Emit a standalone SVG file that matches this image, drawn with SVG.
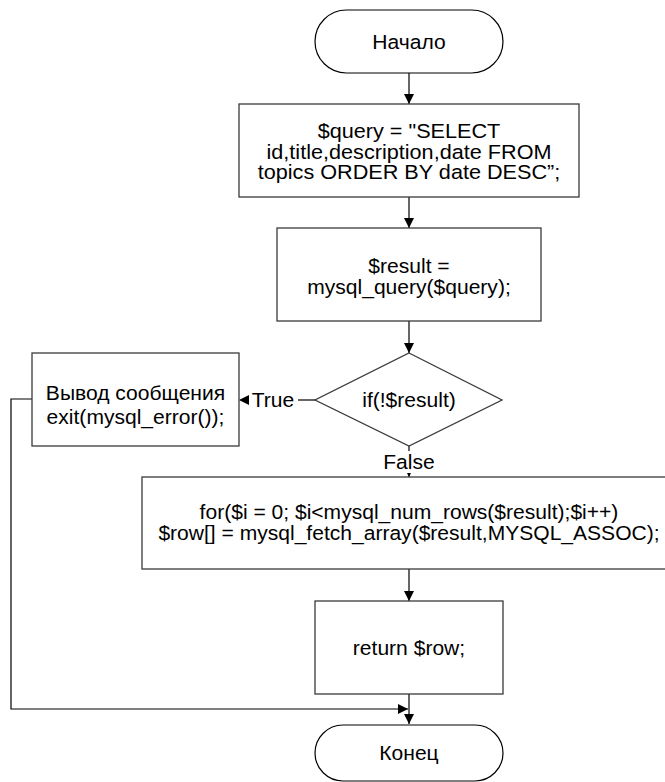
<svg xmlns="http://www.w3.org/2000/svg" width="665" height="782" viewBox="0 0 665 782">
  <style>
    .shape { fill: #ffffff; stroke: #3a3a3a; stroke-width: 1.3; }
    .term { fill: #ffffff; stroke: #000000; stroke-width: 1.2; }
    .wire { fill: none; stroke: #000000; stroke-width: 1.2; }
    .lbl { font-family: "Liberation Sans", Arial, sans-serif; font-size: 19.5px; fill: #000000; text-anchor: middle;
           transform-box: fill-box; transform-origin: center; transform: scaleX(1.08); }
    .lbl.wide { transform: scaleX(1.11); }
  </style>
  <defs>
    <marker id="arrow" viewBox="0 0 10 10" refX="10" refY="5" markerWidth="10" markerHeight="10" markerUnits="userSpaceOnUse" orient="auto">
      <path d="M0,0 L10,5 L0,10 Z" fill="#000000"/>
    </marker>
    <marker id="tiny" viewBox="0 0 10 10" refX="10" refY="5" markerWidth="4" markerHeight="4" markerUnits="userSpaceOnUse" orient="auto">
      <path d="M0,0 L10,5 L0,10 Z" fill="#000000"/>
    </marker>
  </defs>

  <rect width="665" height="782" fill="#ffffff"/>

  <g id="connectors">
    <line class="wire" x1="409" y1="73" x2="409" y2="104" marker-end="url(#arrow)"/>
    <line class="wire" x1="409" y1="197" x2="409" y2="228" marker-end="url(#arrow)"/>
    <line class="wire" x1="409" y1="321" x2="409" y2="353" marker-end="url(#arrow)"/>
    <!-- True branch -->
    <line class="wire" x1="315" y1="400" x2="298" y2="400"/>
    <path d="M249,395 L239,400 L249,405 Z" fill="#000000"/>
    <text class="lbl" x="273" y="407">True</text>
    <!-- False branch -->
    <line class="wire" x1="409" y1="446" x2="409" y2="451"/>
    <text class="lbl" x="409" y="469">False</text>
    <line class="wire" x1="409" y1="473" x2="409" y2="477" marker-end="url(#tiny)"/>
    <line class="wire" x1="409" y1="569" x2="409" y2="601" marker-end="url(#arrow)"/>
    <line class="wire" x1="409" y1="694" x2="409" y2="724" marker-end="url(#arrow)"/>
    <!-- return from error box -->
    <polyline class="wire" points="32,399 11,399 11,709 408,709" marker-end="url(#arrow)"/>
  </g>

  <g id="start">
    <rect class="term" x="315" y="10" width="188" height="63" rx="31.5" ry="31.5"/>
    <text class="lbl" x="409" y="49">Начало</text>
  </g>

  <g id="query">
    <rect class="shape" x="239" y="104" width="340" height="93"/>
    <text class="lbl wide" x="409" y="138">$query = "SELECT</text>
    <text class="lbl wide" x="409" y="159">id,title,description,date FROM</text>
    <text class="lbl wide" x="409" y="179">topics ORDER BY date DESC”;</text>
  </g>

  <g id="result">
    <rect class="shape" x="277" y="228" width="264" height="93"/>
    <text class="lbl" x="409" y="273">$result =</text>
    <text class="lbl" x="409" y="294">mysql_query($query);</text>
  </g>

  <g id="check">
    <polygon class="shape" points="409,353 502,400 409,446 315,400"/>
    <text class="lbl" x="409" y="407">if(!$result)</text>
  </g>

  <g id="error">
    <rect class="shape" x="32" y="353" width="207" height="93"/>
    <text class="lbl" x="135.5" y="400">Вывод сообщения</text>
    <text class="lbl" x="135.5" y="424">exit(mysql_error());</text>
  </g>

  <g id="loop">
    <rect class="shape" x="142" y="477" width="540" height="92"/>
    <text class="lbl" x="409" y="519">for($i = 0; $i&lt;mysql_num_rows($result);$i++)</text>
    <text class="lbl" x="409" y="540">$row[] = mysql_fetch_array($result,MYSQL_ASSOC);</text>
  </g>

  <g id="return">
    <rect class="shape" x="315" y="601" width="188" height="93"/>
    <text class="lbl" x="409" y="655">return $row;</text>
  </g>

  <g id="end">
    <rect class="term" x="315" y="725" width="188" height="56" rx="28" ry="28"/>
    <text class="lbl" x="409" y="760">Конец</text>
  </g>
</svg>
